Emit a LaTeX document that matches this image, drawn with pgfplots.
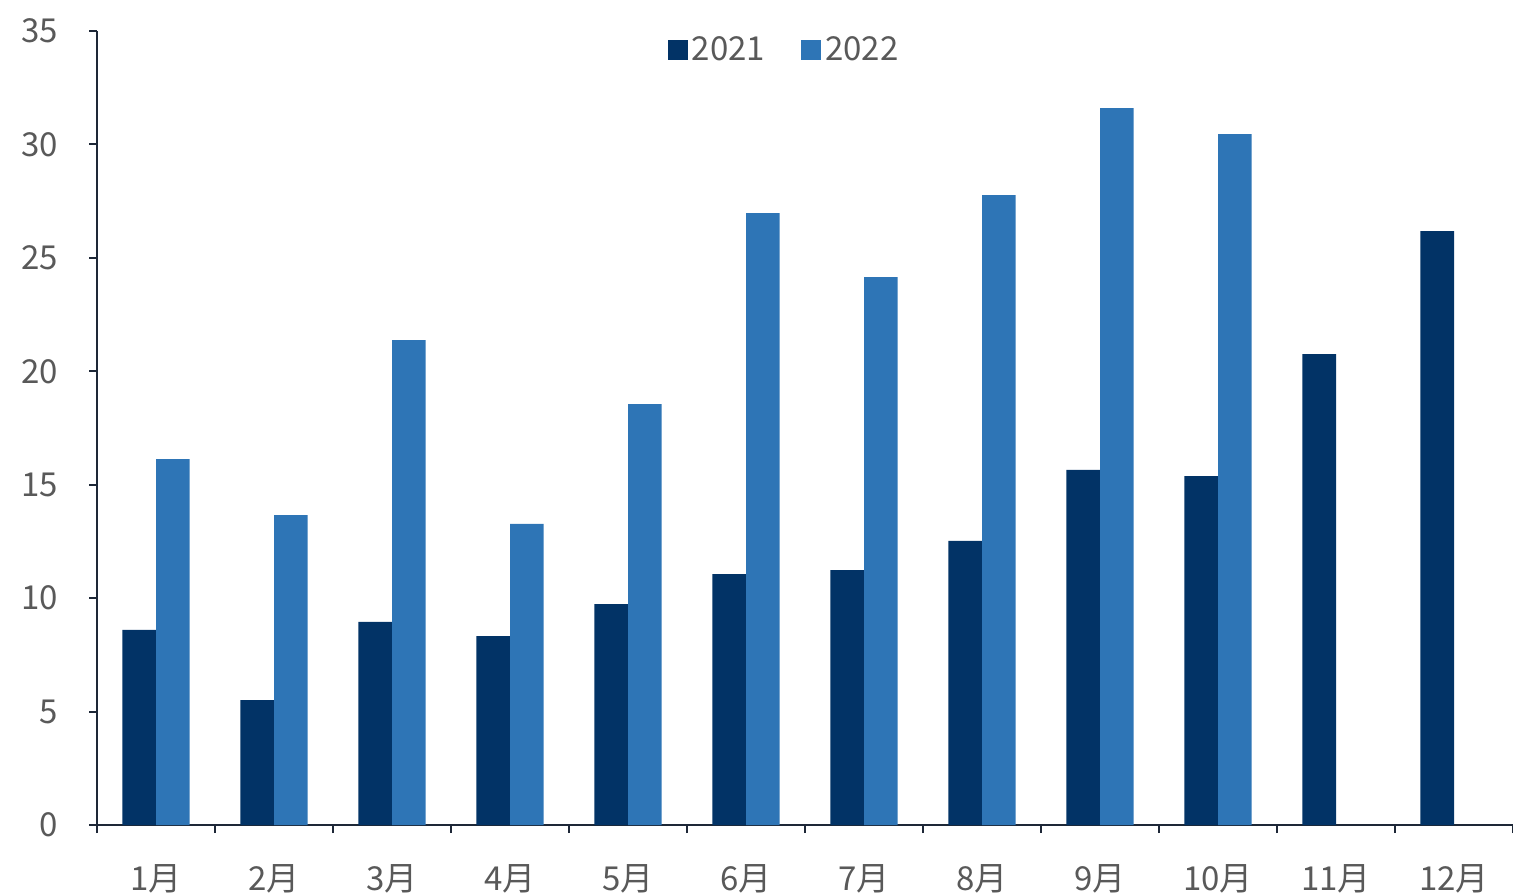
\documentclass[border=0pt]{standalone}
\usepackage{pgfplots}
\pgfplotsset{compat=1.18}
\usetikzlibrary{calc}
\usepackage{fontspec}
\setmainfont{Noto Sans CJK SC}
\definecolor{c21}{RGB}{2,51,102}
\definecolor{c22}{RGB}{46,117,182}
\definecolor{tl}{RGB}{89,89,89}
\definecolor{axc}{RGB}{30,40,55}
\begin{document}
\begin{tikzpicture}
\begin{axis}[
  name=main,
  scale only axis, width=708pt, height=397pt,
  xmin=-0.5, xmax=11.5, ymin=0, ymax=35,
  axis lines*=left,
  axis line style={axc, line width=1pt},
  tick style={axc, line width=1pt},
  tick align=outside, major tick length=4pt,
  ytick={0,5,...,35},
  xtick={-0.5,0.5,...,11.5}, xticklabels={},
  extra x ticks={0,1,2,3,4,5,6,7,8,9,10,11},
  extra x tick labels={1月,2月,3月,4月,5月,6月,7月,8月,9月,10月,11月,12月},
  extra x tick style={major tick length=0pt, xticklabel style={yshift=-16pt}},
  ticklabel style={font=\fontsize{16.5}{19}\selectfont, text=tl},
  yticklabel style={xshift=-12pt},
  /pgf/number format/assume math mode=true,
  ybar, bar width=0.285,
  legend style={at={(0.486,0.976)}, anchor=center, draw=none, fill=none,
    legend columns=2, font=\fontsize{16.5}{19}\selectfont, text=tl,
    /tikz/every even column/.style={column sep=16pt}},
  legend image code/.code={\fill[#1] (0pt,-5pt) rectangle (10pt,5pt);},
]
\addplot[fill=c21, draw=none, bar shift=-0.1425] coordinates {
 (0,8.6) (1,5.5) (2,8.95) (3,8.33) (4,9.74) (5,11.06) (6,11.24) (7,12.52) (8,15.65) (9,15.38) (10,20.76) (11,26.18)};
\addlegendentry{2021}
\addplot[fill=c22, draw=none, bar shift=0.1425] coordinates {
 (0,16.13) (1,13.66) (2,21.37) (3,13.27) (4,18.55) (5,26.97) (6,24.15) (7,27.77) (8,31.6) (9,30.45)};
\addlegendentry{2022}
\coordinate (SW) at (rel axis cs:0,0);
\coordinate (NE) at (rel axis cs:1,1);
\end{axis}
\pgfresetboundingbox
\path[use as bounding box] ($(SW)+(-48.5pt,-35pt)$) rectangle ($(NE)+(0pt,15.5pt)$);
\end{tikzpicture}
\end{document}
